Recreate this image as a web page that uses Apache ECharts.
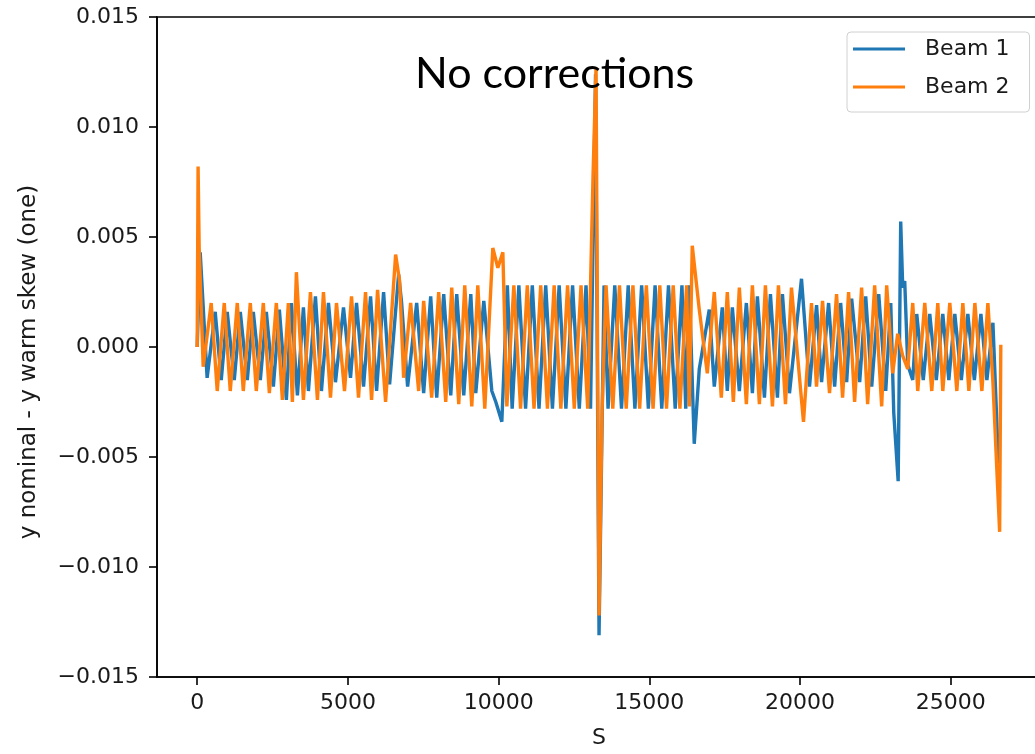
<!DOCTYPE html>
<html>
<head>
<meta charset="utf-8">
<script src="https://cdn.jsdelivr.net/npm/echarts@6.0.0/dist/echarts.min.js"></script>
<style>
  html, body { margin: 0; padding: 0; background: #fff; }
  #chart { width: 1035px; height: 754px; }
</style>
</head>
<body>
<div id="chart"></div>
<script>
// tick labels
const xTicks = [0, 5000, 10000, 15000, 20000, 25000];
const yTicks = [-0.015, -0.010, -0.005, 0.000, 0.005, 0.010, 0.015];

// [S, y nominal - y warm skew]
const beam1 = [
  [0, 0], [100, 0.0043], [330, -0.0014], [598, 0.0016], [798, -0.0015],
  [997, 0.0016], [1230, -0.0015], [1430, 0.0016], [1662, -0.0015], [1862, 0.0016],
  [2094, -0.0015], [2294, 0.0016], [2527, -0.0018], [2726, 0.0017], [2959, -0.0024],
  [3125, 0.0020], [3325, -0.0022], [3524, 0.0018], [3690, -0.0020], [3923, 0.0023],
  [4122, -0.0020], [4355, 0.0020], [4588, -0.0016], [4854, 0.0018], [5086, -0.0014],
  [5286, 0.0020], [5519, -0.0018], [5751, 0.0023], [5951, -0.0020], [6184, 0.0025],
  [6383, -0.0017], [6682, 0.0033], [6782, 0.0020], [6981, -0.0018], [7281, 0.0020],
  [7513, -0.0021], [7746, 0.0023], [7946, -0.0023], [8178, 0.0024], [8411, -0.0022],
  [8610, 0.0024], [8843, -0.0022], [9076, 0.0024], [9242, -0.0021], [9508, 0.0021],
  [9774, -0.0020], [9907, -0.0025], [10106, -0.0034], [10289, 0.0028], [10449, -0.0028],
  [10671, 0.0028], [10894, -0.0028], [11117, 0.0028], [11340, -0.0028], [11562, 0.0028],
  [11785, -0.0028], [12008, 0.0028], [12231, -0.0028], [12453, 0.0028], [12676, -0.0028],
  [12899, 0.0028], [13049, -0.0028], [13215, 0.0124], [13331, -0.0131], [13497, 0.0028],
  [13630, -0.0028], [13853, 0.0028], [14076, -0.0028], [14299, 0.0028], [14521, -0.0028],
  [14744, 0.0028], [14967, -0.0028], [15190, 0.0028], [15412, -0.0028], [15635, 0.0028],
  [15858, -0.0028], [16081, 0.0028], [16207, -0.0028], [16323, 0.0028], [16489, -0.0044],
  [16656, -0.0010], [16988, 0.0017], [17154, -0.0018], [17420, 0.0018], [17586, -0.0020],
  [17753, 0.0018], [17985, -0.0020], [18218, 0.0020], [18418, -0.0021], [18584, 0.0023],
  [18817, -0.0023], [19016, 0.0024], [19249, -0.0023], [19415, 0.0024], [19648, -0.0021],
  [20047, 0.0031], [20313, -0.0018], [20547, 0.0019], [20713, -0.0016], [20946, 0.0020],
  [21146, -0.0018], [21345, 0.0020], [21545, -0.0016], [21711, 0.0022], [21977, -0.0016],
  [22177, 0.0023], [22376, -0.0018], [22609, 0.0024], [22842, -0.0020], [23008, 0.0020],
  [23108, -0.0030], [23254, -0.0061], [23338, 0.0057], [23405, 0.0027], [23471, 0.0030],
  [23571, -0.0008], [23737, -0.0015], [23870, 0.0015], [24086, -0.0015], [24302, 0.0015],
  [24518, -0.0015], [24734, 0.0015], [24934, -0.0015], [25133, 0.0015], [25349, -0.0015],
  [25565, 0.0015], [25781, -0.0015], [25998, 0.0015], [26197, -0.0015], [26397, 0.0011],
  [26580, -0.0053]
];

const beam2 = [
  [0, 0], [30, 0.0082], [66, 0.0045], [199, -0.0009], [465, 0.0020],
  [665, -0.0020], [898, 0.0020], [1097, -0.0020], [1330, 0.0020], [1529, -0.0020],
  [1762, 0.0020], [1961, -0.0020], [2194, 0.0020], [2394, -0.0021], [2626, 0.0020],
  [2826, -0.0024], [3025, 0.0020], [3158, -0.0025], [3291, 0.0034], [3524, -0.0024],
  [3757, 0.0025], [3989, -0.0024], [4189, 0.0025], [4422, -0.0023], [4621, 0.0020],
  [4887, -0.0020], [5120, 0.0023], [5352, -0.0023], [5585, 0.0025], [5785, -0.0024],
  [5984, 0.0026], [6250, -0.0025], [6583, 0.0042], [6715, 0.0030], [6848, -0.0014],
  [7081, 0.0020], [7347, -0.0020], [7513, 0.0021], [7779, -0.0023], [8012, 0.0025],
  [8245, -0.0025], [8444, 0.0027], [8677, -0.0026], [8876, 0.0028], [9109, -0.0027],
  [9309, 0.0028], [9541, -0.0028], [9807, 0.0045], [9974, 0.0036], [10140, 0.0043],
  [10273, -0.0027], [10505, 0.0028], [10728, -0.0028], [10951, 0.0028], [11174, -0.0028],
  [11396, 0.0028], [11619, -0.0028], [11842, 0.0028], [12064, -0.0028], [12287, 0.0028],
  [12510, -0.0028], [12733, 0.0028], [12955, -0.0028], [13132, 0.0078], [13231, 0.0127],
  [13331, -0.0122], [13431, -0.0029], [13564, 0.0028], [13787, -0.0028], [14009, 0.0028],
  [14232, -0.0028], [14455, 0.0028], [14678, -0.0028], [14900, 0.0028], [15123, -0.0028],
  [15346, 0.0028], [15569, -0.0028], [15791, 0.0028], [16014, -0.0028], [16237, 0.0028],
  [16324, -0.0027], [16423, 0.0046], [16656, 0.0017], [16922, -0.0012], [17154, 0.0025],
  [17387, -0.0023], [17586, 0.0025], [17786, -0.0025], [17985, 0.0027], [18218, -0.0026],
  [18418, 0.0028], [18650, -0.0026], [18850, 0.0028], [19083, -0.0027], [19282, 0.0028],
  [19515, -0.0026], [19714, 0.0027], [20113, -0.0034], [20379, 0.0020], [20545, -0.0018],
  [20745, 0.0021], [20977, -0.0021], [21210, 0.0024], [21410, -0.0023], [21609, 0.0025],
  [21809, -0.0025], [22041, 0.0027], [22241, -0.0026], [22474, 0.0028], [22707, -0.0027],
  [22873, 0.0028], [23072, -0.0012], [23238, 0.0006], [23405, -0.0004], [23571, -0.0010],
  [23737, 0.0020], [23903, -0.0020], [24136, 0.0020], [24369, -0.0020], [24568, 0.0020],
  [24734, -0.0020], [24967, 0.0020], [25200, -0.0020], [25399, 0.0020], [25599, -0.0020],
  [25798, 0.0020], [26031, -0.0020], [26230, 0.0020], [26397, -0.0016], [26620, -0.0084],
  [26659, 0.0001]
];

const font = 'DejaVu Sans';

function yLabel(v) {
  if (Math.abs(v) < 1e-9) return '0.000';
  return (v < 0 ? '\u2212' : '') + Math.abs(v).toFixed(3);
}

const chart = echarts.init(document.getElementById('chart'));

chart.setOption({
  animation: false,
  backgroundColor: '#fff',
  grid: {
    left: 157, right: -6, top: 17, bottom: 77,
    show: true, borderColor: '#000', borderWidth: 1.6,
    outerBoundsMode: 'none'
  },
  legend: {
    orient: 'vertical',
    left: 847, top: 32,
    padding: [4, 20, 12, 6],
    itemGap: 12,
    itemWidth: 52, itemHeight: 3,
    icon: 'rect',
    backgroundColor: 'rgba(255,255,255,0.85)',
    borderColor: '#d0d0d0', borderWidth: 1, borderRadius: 4,
    textStyle: { fontFamily: font, fontSize: 22, color: '#1a1a1a', lineHeight: 26, padding: [0, 0, 0, 15] },
    data: ['Beam 1', 'Beam 2']
  },
  graphic: [{
    type: 'text', left: 415, top: 53, z: 100,
    style: { text: 'No corrections', font: '43px Lato', fill: '#000' }
  }],
  xAxis: {
    type: 'value',
    min: -1333, max: 27992,
    name: 'S', nameLocation: 'middle', nameGap: 50,
    nameTextStyle: { fontFamily: font, fontSize: 22, color: '#1a1a1a' },
    axisLine: { show: true, onZero: false, lineStyle: { color: '#000', width: 1.6 } },
    axisTick: { show: true, inside: false, length: 8, customValues: xTicks, lineStyle: { color: '#000', width: 1.6 } },
    axisLabel: {
      customValues: xTicks, margin: 15, fontFamily: font, fontSize: 22, color: '#1a1a1a',
      formatter: function (v) { return String(v); }
    },
    splitLine: { show: false }
  },
  yAxis: {
    type: 'value',
    min: yTicks[0], max: yTicks[yTicks.length - 1], interval: 0.005,
    name: 'y nominal - y warm skew (one)', nameLocation: 'middle', nameGap: 116,
    nameTextStyle: { fontFamily: font, fontSize: 23, color: '#1a1a1a', padding: [0, 30, 0, 0] },
    axisLine: { show: true, onZero: false, lineStyle: { color: '#000', width: 1.6 } },
    axisTick: { show: true, inside: false, length: 8, lineStyle: { color: '#000', width: 1.6 } },
    axisLabel: { margin: 18, fontFamily: font, fontSize: 22, color: '#1a1a1a', formatter: yLabel },
    splitLine: { show: false }
  },
  series: [
    {
      name: 'Beam 1', type: 'line', data: beam1,
      showSymbol: false, symbol: 'none',
      lineStyle: { color: '#1f77b4', width: 3.4 },
      itemStyle: { color: '#1f77b4' }
    },
    {
      name: 'Beam 2', type: 'line', data: beam2,
      showSymbol: false, symbol: 'none',
      lineStyle: { color: '#ff7f0e', width: 3.4 },
      itemStyle: { color: '#ff7f0e' }
    }
  ]
});

window.addEventListener('resize', function () {
  chart.resize();
});
</script>
</body>
</html>
